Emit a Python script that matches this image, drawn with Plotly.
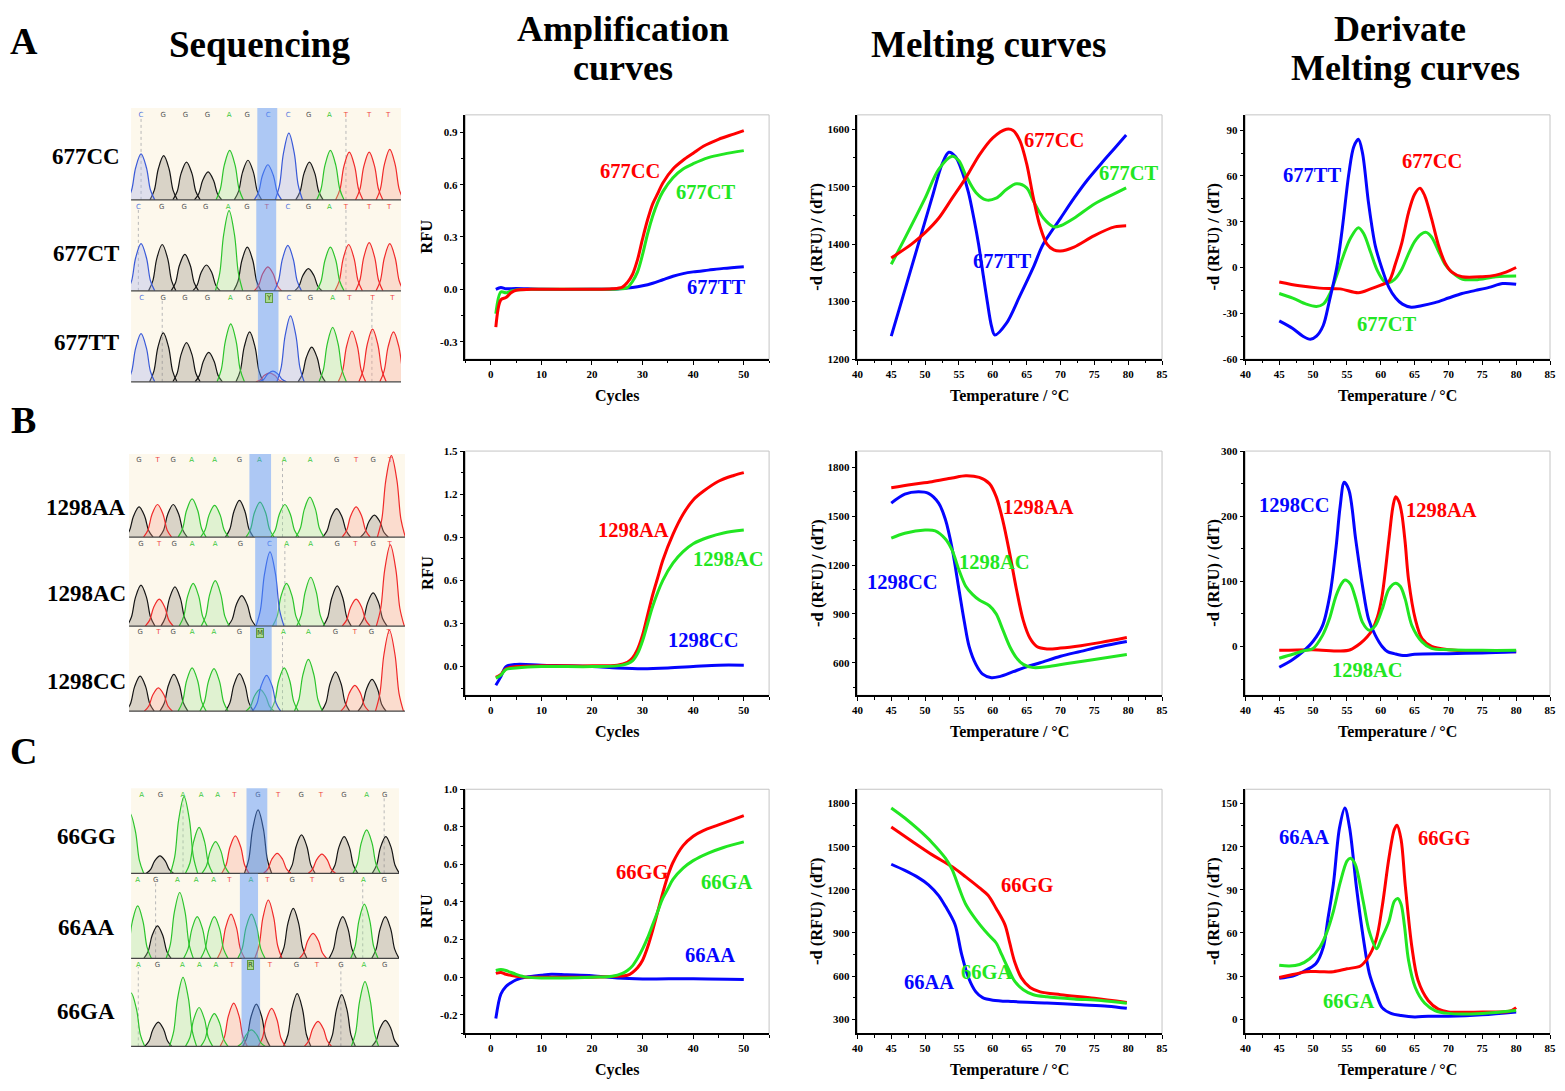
import plotly.graph_objects as go

W, H = 1565, 1091          # target picture
PAD = 8                    # default page margin around the plot div
FW, FH = W - 2 * PAD, H - 2 * PAD
SERIF = "Liberation Serif"
RED, GREEN, BLUE = "#ff0000", "#22e622", "#0505ff"

# ---------------- sequencing chromatograms: (base, position, height) ----------------
seq_677cc = [("C", 0.48, 0.51), ("G", 1.57, 0.49), ("G", 2.67, 0.42), ("G", 3.71, 0.31), ("A", 4.75, 0.55),
             ("G", 5.63, 0.44), ("C", 6.59, 0.39), ("C", 7.6, 0.74), ("G", 8.59, 0.42), ("A", 9.6, 0.55),
             ("T", 10.51, 0.53), ("T", 11.47, 0.53), ("T", 12.46, 0.56)]
seq_677ct = [("C", 0.48, 0.53), ("G", 1.5, 0.52), ("G", 2.59, 0.41), ("G", 3.63, 0.29), ("A", 4.72, 0.9),
             ("G", 5.6, 0.49), ("T", 6.59, 0.27), ("C", 7.55, 0.51), ("G", 8.54, 0.25), ("A", 9.6, 0.49),
             ("T", 10.48, 0.52), ("T", 11.47, 0.54), ("T", 12.46, 0.53)]
seq_677tt = [("C", 0.48, 0.54), ("G", 1.55, 0.55), ("G", 2.67, 0.44), ("G", 3.74, 0.33), ("A", 4.8, 0.65),
             ("G", 5.71, 0.56), ("T", 6.67, 0.1), ("C", 6.83, 0.12), ("C", 7.68, 0.74), ("G", 8.7, 0.39),
             ("A", 9.71, 0.61), ("T", 10.64, 0.57), ("T", 11.63, 0.59), ("T", 12.64, 0.56)]
seq_1298aa = [("G", 0.47, 0.37), ("T", 1.34, 0.40), ("G", 2.08, 0.40), ("A", 2.97, 0.47), ("A", 4.03, 0.39),
              ("G", 5.2, 0.45), ("A", 6.17, 0.43), ("A", 7.34, 0.40), ("A", 8.52, 0.49), ("G", 9.78, 0.35),
              ("T", 10.7, 0.37), ("G", 11.56, 0.27), ("T", 12.36, 1.0)]
seq_1298ac = [("G", 0.56, 0.47), ("T", 1.42, 0.31), ("G", 2.16, 0.45), ("A", 3.02, 0.49), ("A", 4.06, 0.52),
              ("G", 5.31, 0.35), ("C", 6.64, 0.85), ("A", 7.42, 0.49), ("A", 8.56, 0.56), ("G", 9.81, 0.46),
              ("T", 10.7, 0.31), ("G", 11.5, 0.38), ("T", 12.31, 0.93)]
seq_1298cc = [("G", 0.52, 0.42), ("T", 1.38, 0.28), ("G", 2.11, 0.44), ("A", 2.97, 0.52), ("A", 4.0, 0.51),
              ("G", 5.2, 0.45), ("A", 6.17, 0.26), ("C", 6.48, 0.43), ("A", 7.31, 0.52), ("A", 8.45, 0.62),
              ("G", 9.73, 0.47), ("T", 10.64, 0.31), ("G", 11.45, 0.38), ("T", 12.27, 0.97)]
seq_66gg = [("A", -0.05, 0.72), ("G", 1.4, 0.21), ("A", 2.57, 0.92), ("A", 3.3, 0.55), ("A", 4.1, 0.38),
            ("T", 5.06, 0.45), ("G", 6.16, 0.76), ("T", 7.09, 0.24), ("G", 8.27, 0.46), ("T", 9.26, 0.23),
            ("G", 10.34, 0.44), ("A", 11.43, 0.52), ("G", 12.36, 0.44)]
seq_66aa = [("A", 0.32, 0.63), ("G", 1.28, 0.39), ("A", 2.36, 0.79), ("A", 3.21, 0.5), ("A", 4.04, 0.5),
            ("T", 4.85, 0.53), ("A", 5.84, 0.53), ("T", 6.66, 0.70), ("G", 7.87, 0.60), ("T", 8.83, 0.30),
            ("G", 10.27, 0.50), ("A", 11.32, 0.65), ("G", 12.34, 0.50)]
seq_66ga = [("A", 0.0, 0.62), ("G", 1.32, 0.28), ("A", 2.52, 0.8), ("A", 3.3, 0.45), ("A", 4.04, 0.38),
            ("T", 4.98, 0.5), ("A", 5.84, 0.19), ("G", 6.08, 0.49), ("T", 6.82, 0.44), ("G", 8.06, 0.61),
            ("T", 9.07, 0.29), ("G", 10.22, 0.6), ("A", 11.35, 0.75), ("G", 12.34, 0.3)]

# base calls shown above each trace and where they sit
calls_677cc, calls_677ct, calls_677tt = "CGGGAGCCGATTT", "CGGGAGTCGATTT", "CGGGAGYCGATTT"
callx_677cc = [0.48, 1.55, 2.62, 3.68, 4.72, 5.6, 6.6, 7.57, 8.56, 9.55, 10.35, 11.47, 12.38]
callx_677ct = [0.35, 1.47, 2.56, 3.6, 4.67, 5.58, 6.54, 7.55, 8.54, 9.55, 10.35, 11.47, 12.43]
callx_677tt = [0.51, 1.55, 2.59, 3.68, 4.78, 5.66, 6.62, 7.6, 8.64, 9.71, 10.51, 11.63, 12.59]
calls_1298aa, calls_1298ac, calls_1298cc = "GTGAAGAAAGTGT", "GTGAAGCAAGTGT", "GTGAAGMAAGTGT"
callx_1298aa = [0.47, 1.34, 2.08, 2.95, 4.03, 5.2, 6.14, 7.31, 8.53, 9.78, 10.7, 11.5, 12.3]
callx_1298ac = [0.56, 1.42, 2.13, 2.97, 4.06, 5.25, 6.61, 7.42, 8.56, 9.81, 10.67, 11.5, 12.28]
callx_1298cc = [0.52, 1.38, 2.08, 2.97, 4.0, 5.2, 6.17, 7.27, 8.45, 9.73, 10.64, 11.42, 12.23]
calls_66gg, calls_66aa, calls_66ga = "AGAAATGTGTGAG", "AGAAATATGTGAG", "AGAAATRTGTGAG"
callx_66gg = [0.51, 1.43, 2.52, 3.4, 4.2, 5.01, 6.16, 7.13, 8.26, 9.21, 10.33, 11.43, 12.31]
callx_66aa = [0.32, 1.2, 2.25, 3.16, 4.01, 4.77, 5.81, 6.61, 7.82, 8.78, 10.22, 11.27, 12.28]
callx_66ga = [0.35, 1.28, 2.49, 3.32, 4.12, 4.89, 5.81, 6.73, 8.03, 9.02, 10.19, 11.3, 12.31]

# highlighted SNP column and dashed guide lines per trace
snp_677 = [(6.08, 7.04), (6.03, 6.99), (6.11, 7.1)]
snp_1298 = [(5.67, 6.69), (5.94, 6.97), (5.7, 6.72)]
snp_66 = [(5.6, 6.61), (5.28, 6.16), (5.36, 6.26)]
guides_677 = [[0.48, 10.35], [0.35, 10.35], [1.5, 11.6]]
guides_1298 = [[7.23], [7.34], [7.23]]
guides_66 = [[2.52, 12.28], [1.19, 11.24], [0.35, 10.18]]

# ---------------- amplification curves ----------------
amp_677cc_cyc = [1, 2, 3, 4, 5, 8, 15, 20, 24, 26, 27, 28, 29, 30, 31, 32, 33, 34, 36, 38, 40, 42, 45, 48, 50]
amp_677cc_rfu = [-0.217, -0.06, -0.047, -0.02, -0.005, 0, 0, 0, 0.003, 0.013, 0.04, 0.085, 0.17, 0.29, 0.4,
                 0.49, 0.55, 0.61, 0.69, 0.74, 0.78, 0.82, 0.86, 0.89, 0.91]
amp_677ct_cyc = [1, 2, 3, 4, 5, 8, 15, 20, 25, 27, 28, 29, 30, 31, 32, 33, 34, 36, 38, 40, 43, 46, 50]
amp_677ct_rfu = [-0.14, -0.015, -0.02, -0.01, -0.004, 0, 0, 0, 0.002, 0.01, 0.045, 0.1, 0.2, 0.32, 0.42,
                 0.5, 0.56, 0.64, 0.69, 0.72, 0.755, 0.775, 0.795]
amp_677tt_cyc = [1, 2, 3, 5, 10, 20, 25, 28, 30, 32, 34, 36, 38, 40, 43, 46, 50]
amp_677tt_rfu = [0.0, 0.01, 0.003, 0.005, 0.0, 0.0, 0.002, 0.01, 0.02, 0.035, 0.055, 0.075, 0.09, 0.1,
                 0.11, 0.12, 0.13]
amp_1298aa_cyc = [1, 2, 3, 5, 10, 20, 25, 27, 28, 29, 30, 31, 32, 33, 34, 36, 38, 40, 42, 45, 48, 50]
amp_1298aa_rfu = [-0.075, -0.055, -0.015, 0.0, 0.005, 0.005, 0.01, 0.03, 0.06, 0.12, 0.22, 0.36, 0.5, 0.62,
                  0.74, 0.92, 1.06, 1.16, 1.22, 1.29, 1.33, 1.35]
amp_1298ac_cyc = [1, 2, 3, 5, 10, 20, 26, 28, 29, 30, 31, 32, 34, 36, 38, 40, 43, 46, 50]
amp_1298ac_rfu = [-0.08, -0.06, -0.02, -0.01, 0, 0, 0.01, 0.04, 0.09, 0.18, 0.3, 0.42, 0.6, 0.72, 0.8,
                  0.855, 0.9, 0.93, 0.95]
amp_1298cc_cyc = [1, 2, 3, 5, 10, 20, 25, 30, 35, 40, 45, 50]
amp_1298cc_rfu = [-0.13, -0.07, 0.0, 0.015, 0.01, 0.0, -0.01, -0.015, -0.01, 0.0, 0.01, 0.01]
amp_66gg_cyc = [1, 2, 3, 5, 7, 10, 20, 25, 27, 28, 29, 30, 31, 32, 33, 34, 35, 36, 38, 40, 42, 45, 48, 50]
amp_66gg_rfu = [0.02, 0.025, 0.015, 0.005, 0, 0, 0, 0.005, 0.01, 0.025, 0.05, 0.09, 0.16, 0.25, 0.35, 0.45,
                0.54, 0.61, 0.7, 0.75, 0.78, 0.81, 0.84, 0.86]
amp_66ga_cyc = [1, 2, 3, 5, 7, 10, 20, 24, 26, 27, 28, 29, 30, 31, 32, 33, 34, 35, 36, 38, 40, 43, 46, 50]
amp_66ga_rfu = [0.035, 0.04, 0.035, 0.015, 0, -0.005, 0, 0.005, 0.02, 0.035, 0.06, 0.1, 0.15, 0.21, 0.28,
                0.35, 0.42, 0.47, 0.52, 0.58, 0.62, 0.66, 0.69, 0.72]
amp_66aa_cyc = [1, 2, 3, 4, 5, 7, 10, 12, 15, 20, 25, 30, 40, 50]
amp_66aa_rfu = [-0.22, -0.09, -0.05, -0.03, -0.015, 0.0, 0.01, 0.015, 0.012, 0.008, -0.005, -0.01, -0.008,
                -0.012]

# ---------------- melting curves ----------------
mt_677cc_t = [45, 48, 50, 52, 54, 56, 58, 60, 62, 63, 64, 65, 66, 67, 68, 69, 70, 72, 75, 78, 79.7]
mt_677cc_v = [1376, 1400, 1420, 1445, 1480, 1515, 1555, 1585, 1600, 1598, 1580, 1540, 1480, 1430, 1400,
              1390, 1388, 1395, 1415, 1430, 1432]
mt_677ct_t = [45, 47, 50, 52, 54, 55, 56, 57.5, 59, 60.5, 62, 63.5, 65, 66, 67.5, 69, 70, 72, 75, 78, 79.7]
mt_677ct_v = [1365, 1410, 1480, 1530, 1553, 1545, 1520, 1490, 1477, 1480, 1495, 1505, 1498, 1475, 1445,
              1430, 1432, 1445, 1470, 1488, 1498]
mt_677tt_t = [45, 47, 49, 51, 52.5, 53.5, 54.5, 55.5, 56.4, 57.2, 57.9, 58.6, 59.2, 59.8, 60.3, 62, 64, 66,
              67.4, 70, 72, 74, 76, 78, 79.7]
mt_677tt_v = [1240, 1320, 1400, 1480, 1539, 1560, 1552, 1525, 1490, 1445, 1400, 1345, 1299, 1258, 1242,
              1262, 1310, 1360, 1399, 1445, 1480, 1512, 1540, 1567, 1590]
mt_1298aa_t = [45, 48, 51, 54, 56, 58, 59.5, 60.5, 61.5, 62.5, 63.5, 64.5, 65.5, 66.5, 68, 70, 73, 76, 79.8]
mt_1298aa_v = [1675, 1695, 1712, 1735, 1748, 1738, 1700, 1620, 1470, 1270, 1050, 860, 750, 700, 685, 690,
               705, 725, 755]
mt_1298ac_t = [45, 47, 50, 51.5, 53, 54, 55, 56, 57, 58, 59.5, 60.5, 61.5, 62.5, 63.5, 64.5, 66, 68, 71, 75,
               79.8]
mt_1298ac_v = [1365, 1395, 1415, 1410, 1360, 1290, 1170, 1070, 1020, 985, 950, 900, 800, 700, 630, 590, 570,
               575, 595, 620, 650]
mt_1298cc_t = [45, 47, 49, 50.5, 52, 53, 54, 55, 55.8, 56.5, 57.5, 58.5, 59.8, 61, 63, 65, 67, 70, 73, 76,
               79.8]
mt_1298cc_v = [1580, 1635, 1650, 1640, 1580, 1480, 1300, 1050, 850, 700, 590, 530, 508, 515, 545, 575, 600,
               640, 670, 700, 730]
mt_66gg_t = [45, 48, 51, 54, 56, 58, 59.3, 60.5, 61.8, 62.5, 63.2, 64.2, 65.5, 67, 70, 75, 79.8]
mt_66gg_v = [1637, 1540, 1445, 1360, 1290, 1215, 1162, 1070, 956, 830, 703, 589, 520, 490, 470, 445, 415]
mt_66ga_t = [45, 47, 49, 51, 53, 54, 55, 56, 57.4, 59.3, 60.5, 61.3, 62.3, 63.2, 64.5, 66, 68, 72, 76, 79.8]
mt_66ga_v = [1770, 1700, 1620, 1530, 1420, 1340, 1215, 1100, 1000, 890, 830, 750, 650, 566, 505, 470, 455,
             440, 430, 410]
mt_66aa_t = [45, 47, 49, 50.5, 52, 53, 54.4, 55.4, 56.4, 57.5, 58.5, 60, 63, 68, 73, 77, 79.8]
mt_66aa_v = [1378, 1335, 1285, 1235, 1160, 1085, 960, 750, 590, 490, 450, 432, 422, 412, 400, 390, 375]

# ---------------- derivative melting curves ----------------
dm_677tt_t = [45, 47, 48.5, 49.6, 50.5, 51.5, 52.4, 53.5, 54.3, 55.3, 56, 56.7, 57.3, 58.2, 59.2, 60.2, 61.2,
              62.2, 63.2, 64.5, 66, 68, 70, 72, 74, 76, 78, 80]
dm_677tt_v = [-35, -40, -45, -47, -45, -38, -22, 0, 25, 62, 79, 84, 75, 42, 14, -1, -13, -20, -24, -26, -25,
              -23, -20, -17, -15, -13, -10.5, -11]
dm_677cc_t = [45, 48, 51, 54, 56.7, 58.5, 60, 61.2, 62.2, 63.1, 64.1, 65, 65.8, 66.5, 67.5, 68.5, 69.5, 70.5,
              72, 75, 77, 78.5, 80]
dm_677cc_v = [-9.5, -12, -13.5, -14, -16.5, -14, -11.5, -9, 3, 16, 36, 48, 52, 47, 32, 15, 3, -3, -6, -6, -5,
              -3, 0]
dm_677ct_t = [45, 47, 49, 50.5, 51.5, 52.5, 53.5, 54.5, 55.5, 56.7, 57.5, 58.5, 59.5, 60.5, 61.2, 62, 63, 64,
              65, 66, 66.7, 67.5, 68.5, 69.5, 70.5, 72, 74, 77, 80]
dm_677ct_v = [-17, -20, -24, -25.5, -24, -17, -5, 8, 19, 26, 22, 10, -2, -9, -10, -8, -2, 8, 17, 22, 23, 20,
              11, 2, -3, -7.5, -8, -6, -5.5]
dm_1298cc_t = [45, 47, 48.5, 50, 51.4, 52.5, 53.4, 54, 54.6, 55.3, 56.3, 57.3, 58.2, 59.2, 60.2, 61, 62, 63.5,
               65, 70, 75, 80]
dm_1298cc_v = [-32, -20, -8, 8, 32, 80, 153, 215, 252, 240, 164, 93, 42, 17, 0, -8, -11, -14, -12, -11, -10,
               -8]
dm_1298aa_t = [45, 50, 54, 55.5, 57, 58, 58.7, 59.5, 60.2, 61.2, 61.8, 62.2, 62.7, 63.1, 63.6, 64.1, 65.1,
               66.1, 67.5, 70, 75, 80]
dm_1298aa_v = [-6, -5, -7, -5, 5, 15, 25, 45, 78, 164, 215, 230, 222, 204, 160, 103, 42, 12, 0, -5, -7, -8]
dm_1298ac_t = [45, 47, 48.5, 50, 51.4, 52.4, 53.4, 54.3, 54.7, 55.5, 56.3, 57.3, 58.3, 59.2, 60.2, 61.2, 62.2,
               62.9, 63.6, 64.6, 66.1, 67.5, 70, 75, 80]
dm_1298ac_v = [-18, -12, -7, -3, 17, 42, 78, 98, 102, 96, 73, 37, 25, 32, 57, 88, 97, 92, 73, 32, 7, -3, -5,
               -6, -6]
dm_66aa_t = [45, 47, 48.5, 50.4, 51.5, 52.2, 53, 53.9, 54.7, 55.4, 56.4, 57.4, 58.3, 59.3, 60.2, 61.5, 63, 65,
             67, 70, 75, 80]
dm_66aa_v = [28.5, 30, 33, 38.5, 50, 70, 94, 133, 147, 133, 92, 57, 32, 18, 8, 4, 2.5, 1.5, 2, 2, 3, 5]
dm_66gg_t = [45, 47, 49, 51, 53, 55, 57, 58, 59.3, 60.2, 61.2, 62, 62.4, 63, 63.6, 64.6, 65.5, 67, 68.5, 70,
             75, 79, 80]
dm_66gg_v = [29, 31, 33, 33, 33, 35, 37, 42, 55, 78, 112, 132, 135, 125, 94, 50, 27, 13, 7, 5, 5, 5.5, 8]
dm_66ga_t = [45, 46.5, 48, 49.5, 51, 52, 53, 54, 55, 55.5, 56.2, 57.4, 58.3, 59.4, 60, 61.2, 62, 62.5, 63,
             63.5, 64.1, 65.1, 66.5, 68, 70, 75, 80]
dm_66ga_v = [37.5, 37, 38, 42, 50, 60, 75, 95, 110, 112, 108, 82, 61, 49, 55, 68, 82, 84, 80, 65, 41, 22, 11,
             6, 4, 4, 6]

# ---------------- axis ticks ----------------
amp_xticks = [0, 10, 20, 30, 40, 50]
temp_xticks = [40, 45, 50, 55, 60, 65, 70, 75, 80, 85]
amp_a_yticks = [-0.3, 0.0, 0.3, 0.6, 0.9]
amp_b_yticks = [0.0, 0.3, 0.6, 0.9, 1.2, 1.5]
amp_c_yticks = [-0.2, 0.0, 0.2, 0.4, 0.6, 0.8, 1.0]
mt_a_yticks = [1200, 1300, 1400, 1500, 1600]
mt_b_yticks = [600, 900, 1200, 1500, 1800]
mt_c_yticks = [300, 600, 900, 1200, 1500, 1800]
dm_a_yticks = [-60, -30, 0, 30, 60, 90]
dm_b_yticks = [0, 100, 200, 300]
dm_c_yticks = [0, 30, 60, 90, 120, 150]

LINE = {"A": "#2cc42c", "C": "#3a5ad8", "G": "#151515", "T": "#f02a2a"}
FILL = {"A": "rgba(160,228,145,0.30)", "C": "rgba(170,180,235,0.36)",
        "G": "rgba(125,115,105,0.28)", "T": "rgba(250,155,135,0.30)"}
CALL = {"A": "#3cc83c", "C": "#5577dd", "G": "#555555", "T": "#ee4444"}
# peak glyph used to draw every base peak
PEAK_DX = [-0.66, -0.45, -0.26, 0, 0.26, 0.45, 0.66]
PEAK_FY = [0, 0.22, 0.7, 1, 0.7, 0.22, 0]

fig = go.Figure()
layout = {}
annotations = []
shapes = []
counter = [0]


def fx(p):
    return min(max((p - PAD) / FW, 0), 1)


def fy(p):
    return min(max(1 - (p - PAD) / FH, 0), 1)


def new_axes(x0, x1, y0, y1):
    counter[0] += 1
    k = "" if counter[0] == 1 else str(counter[0])
    layout[f"xaxis{k}"] = dict(domain=[fx(x0), fx(x1)], anchor=f"y{k}")
    layout[f"yaxis{k}"] = dict(domain=[fy(y1), fy(y0)], anchor=f"x{k}")
    return f"x{k}", f"y{k}", k


def text(x, y, s, size, color="black", angle=0, xref="paper", yref="paper"):
    if xref == "paper":
        x, y = fx(x), fy(y)
    annotations.append(dict(x=x, y=y, xref=xref, yref=yref, text=s, showarrow=False, textangle=angle,
                            font=dict(family=SERIF, size=size, color=color, weight="bold"),
                            xanchor="center", yanchor="middle"))


def draw_strip(box, peaks, calls, callx, snp, guides):
    xa, ya, k = new_axes(*box)
    for ax in (layout[f"xaxis{k}"], layout[f"yaxis{k}"]):
        ax.update(showline=False, showticklabels=False, ticks="", showgrid=False, zeroline=False,
                  fixedrange=True)
    layout[f"xaxis{k}"]["range"] = [0, 13]
    layout[f"yaxis{k}"]["range"] = [0, 1.02]
    shapes.append(dict(type="rect", xref=f"{xa} domain", yref=f"{ya} domain", x0=0, x1=1, y0=0, y1=1,
                       fillcolor="#fdf8ec", line=dict(width=0), layer="below"))
    for g in guides:
        shapes.append(dict(type="line", xref=xa, yref=f"{ya} domain", x0=g, x1=g, y0=0, y1=0.9,
                           line=dict(color="#b8b8b8", width=1, dash="dot"), layer="below"))
    for base in "GTAC":
        xs, ys = [], []
        for b, pos, h in peaks:
            if b != base:
                continue
            xs += [pos + d for d in PEAK_DX] + [None]
            ys += [h * f for f in PEAK_FY] + [None]
        if xs:
            fig.add_trace(go.Scatter(x=xs, y=ys, xaxis=xa, yaxis=ya, mode="lines", fill="toself",
                                     fillcolor=FILL[base], line=dict(color=LINE[base], width=1.2,
                                                                     shape="spline", smoothing=1.0),
                                     hoverinfo="skip"))
    plain = [(c, x) for c, x in zip(calls, callx) if c in "ACGT"]
    fig.add_trace(go.Scatter(x=[x for _, x in plain], y=[0.94] * len(plain), xaxis=xa, yaxis=ya,
                             mode="text", text=[c for c, _ in plain],
                             textfont=dict(size=7, color=[CALL[c] for c, _ in plain], family="DejaVu Sans"),
                             hoverinfo="skip"))
    for c, x in zip(calls, callx):
        if c not in "ACGT":
            annotations.append(dict(x=x, y=0.94, xref=xa, yref=ya, text=c, showarrow=False,
                                    font=dict(size=7, color="#335522", family="DejaVu Sans"),
                                    bgcolor="#a9d98e", bordercolor="#5f9a45", borderwidth=1, borderpad=0))
    shapes.append(dict(type="rect", xref=xa, yref=f"{ya} domain", x0=snp[0], x1=snp[1], y0=0, y1=1,
                       fillcolor="#4b8fff", opacity=0.45, line=dict(width=0), layer="above"))
    shapes.append(dict(type="line", xref=f"{xa} domain", yref=f"{ya} domain", x0=0, x1=1, y0=0, y1=0,
                       line=dict(color="#444444", width=1.2)))


def tick_text(vals, fmt):
    return [fmt.format(v) for v in vals]


def draw_chart(box, xr, xticks, xminor, yr, yticks, yminor, yfmt, curves, labels, xtitle, ytitle, ytitle_dx):
    xa, ya, k = new_axes(*box)
    common = dict(showline=True, linecolor="black", linewidth=1.5, ticks="outside", ticklen=4, tickwidth=1.2,
                  tickcolor="black", showgrid=False, zeroline=False, fixedrange=True,
                  tickfont=dict(family=SERIF, size=11, color="black", weight="bold"))
    layout[f"xaxis{k}"].update(common, range=xr, tickmode="array", tickvals=xticks,
                               ticktext=tick_text(xticks, "{:g}"),
                               minor=dict(ticks="outside", ticklen=2.5, tickmode="linear", tick0=xticks[0],
                                          dtick=xminor, tickcolor="black", tickwidth=1))
    layout[f"yaxis{k}"].update(common, range=yr, tickmode="array", tickvals=yticks,
                               ticktext=tick_text(yticks, yfmt),
                               minor=dict(ticks="outside", ticklen=2.5, tickmode="linear", tick0=yticks[0],
                                          dtick=yminor, tickcolor="black", tickwidth=1))
    shapes.append(dict(type="rect", xref=f"{xa} domain", yref=f"{ya} domain", x0=0, x1=1, y0=0, y1=1,
                       line=dict(color="#c4c4c4", width=1), layer="below"))
    for xs, ys, color in curves:
        fig.add_trace(go.Scatter(x=xs, y=ys, xaxis=xa, yaxis=ya, mode="lines",
                                 line=dict(color=color, width=3, shape="spline", smoothing=0.9)))
    for lx, ly, s, color in labels:
        text(lx, ly, s, 20.5, color, xref=xa, yref=ya)
    x0, x1, y0, y1 = box
    text((x0 + x1) / 2, y1 + 37, xtitle, 16)
    text(x0 + ytitle_dx, (y0 + y1) / 2, ytitle, 16.5, angle=-90)


# ---------------- headers ----------------
text(255, 39, "Sequencing", 37)
text(622, 23, "Amplification", 36)
text(622, 63, "curves", 36)
text(990, 39, "Melting curves", 37)
text(1405, 23, "Derivate", 36)
text(1410, 63, "Melting curves", 36)
for letter, y in (("A", 35), ("B", 419), ("C", 753)):
    text(18, y, letter, 38)

# ---------------- sequencing panels ----------------
seq_rows = [
    ((126, 398), [(103, 196), (196, 288), (288, 380)], [seq_677cc, seq_677ct, seq_677tt],
     [calls_677cc, calls_677ct, calls_677tt], [callx_677cc, callx_677ct, callx_677tt], snp_677, guides_677,
     ["677CC", "677CT", "677TT"], [152, 250, 340]),
    ((124, 402), [(453, 537), (537, 627), (627, 713)], [seq_1298aa, seq_1298ac, seq_1298cc],
     [calls_1298aa, calls_1298ac, calls_1298cc], [callx_1298aa, callx_1298ac, callx_1298cc], snp_1298,
     guides_1298, ["1298AA", "1298AC", "1298CC"], [507, 594, 683]),
    ((126, 396), [(791, 877), (877, 963), (963, 1052)], [seq_66gg, seq_66aa, seq_66ga],
     [calls_66gg, calls_66aa, calls_66ga], [callx_66gg, callx_66aa, callx_66ga], snp_66, guides_66,
     ["66GG", "66AA", "66GA"], [840, 932, 1017]),
]
for (sx0, sx1), ys, peaks, calls, callx, snps, guides, names, name_y in seq_rows:
    for i in range(3):
        draw_strip((sx0, sx1, ys[i][0], ys[i][1]), peaks[i], calls[i], callx[i], snps[i], guides[i])
        text(81, name_y[i], names[i], 23)

# ---------------- curve panels ----------------
AMP_X, MT_X, DM_X = (463, 769), (858, 1165), (1249, 1556)
ROW_Y = [(110, 357), (450, 697), (792, 1039)]
RFU = "RFU"
DRV = "-d (RFU) / (dT)"
TEMP = "Temperature / °C"

draw_chart((*AMP_X, *ROW_Y[0]), [-5, 55], amp_xticks, 5, [-0.4, 1.0], amp_a_yticks, 0.15, "{:.1f}",
           [(amp_677tt_cyc, amp_677tt_rfu, BLUE), (amp_677ct_cyc, amp_677ct_rfu, GREEN),
            (amp_677cc_cyc, amp_677cc_rfu, RED)],
           [(27.5, 0.68, "677CC", RED), (42.6, 0.56, "677CT", GREEN), (44.5, 0.015, "677TT", BLUE)],
           "Cycles", RFU, -39)
draw_chart((*MT_X, *ROW_Y[0]), [40, 85], temp_xticks, 2.5, [1200, 1625], mt_a_yticks, 50, "{:d}",
           [(mt_677tt_t, mt_677tt_v, BLUE), (mt_677ct_t, mt_677ct_v, GREEN), (mt_677cc_t, mt_677cc_v, RED)],
           [(69.1, 1582, "677CC", RED), (80.1, 1523, "677CT", GREEN), (61.3, 1370, "677TT", BLUE)],
           TEMP, DRV, -41)
draw_chart((*DM_X, *ROW_Y[0]), [40, 85], temp_xticks, 2.5, [-60, 100], dm_a_yticks, 15, "{:d}",
           [(dm_677ct_t, dm_677ct_v, GREEN), (dm_677cc_t, dm_677cc_v, RED), (dm_677tt_t, dm_677tt_v, BLUE)],
           [(49.9, 60.5, "677TT", BLUE), (67.5, 70, "677CC", RED), (60.9, -37, "677CT", GREEN)],
           TEMP, DRV, -32)

draw_chart((*AMP_X, *ROW_Y[1]), [-5, 55], amp_xticks, 5, [-0.2, 1.5], amp_b_yticks, 0.15, "{:.1f}",
           [(amp_1298cc_cyc, amp_1298cc_rfu, BLUE), (amp_1298aa_cyc, amp_1298aa_rfu, RED),
            (amp_1298ac_cyc, amp_1298ac_rfu, GREEN)],
           [(28.3, 0.95, "1298AA", RED), (46.9, 0.75, "1298AC", GREEN), (42, 0.185, "1298CC", BLUE)],
           "Cycles", RFU, -39)
draw_chart((*MT_X, *ROW_Y[1]), [40, 85], temp_xticks, 2.5, [400, 1900], mt_b_yticks, 150, "{:d}",
           [(mt_1298aa_t, mt_1298aa_v, RED), (mt_1298cc_t, mt_1298cc_v, BLUE),
            (mt_1298ac_t, mt_1298ac_v, GREEN)],
           [(66.7, 1554, "1298AA", RED), (60.3, 1220, "1298AC", GREEN), (46.6, 1093, "1298CC", BLUE)],
           TEMP, DRV, -41)
draw_chart((*DM_X, *ROW_Y[1]), [40, 85], temp_xticks, 2.5, [-75, 300], dm_b_yticks, 50, "{:d}",
           [(dm_1298aa_t, dm_1298aa_v, RED), (dm_1298cc_t, dm_1298cc_v, BLUE),
            (dm_1298ac_t, dm_1298ac_v, GREEN)],
           [(47.2, 217, "1298CC", BLUE), (69.0, 209, "1298AA", RED), (58.1, -36, "1298AC", GREEN)],
           TEMP, DRV, -32)

draw_chart((*AMP_X, *ROW_Y[2]), [-5, 55], amp_xticks, 5, [-0.3, 1.0], amp_c_yticks, 0.1, "{:.1f}",
           [(amp_66aa_cyc, amp_66aa_rfu, BLUE), (amp_66gg_cyc, amp_66gg_rfu, RED),
            (amp_66ga_cyc, amp_66ga_rfu, GREEN)],
           [(29.8, 0.56, "66GG", RED), (46.5, 0.505, "66GA", GREEN), (43.3, 0.12, "66AA", BLUE)],
           "Cycles", RFU, -39)
draw_chart((*MT_X, *ROW_Y[2]), [40, 85], temp_xticks, 2.5, [200, 1900], mt_c_yticks, 150, "{:d}",
           [(mt_66gg_t, mt_66gg_v, RED), (mt_66aa_t, mt_66aa_v, BLUE), (mt_66ga_t, mt_66ga_v, GREEN)],
           [(65.1, 1231, "66GG", RED), (59.1, 628, "66GA", GREEN), (50.6, 561, "66AA", BLUE)],
           TEMP, DRV, -41)
draw_chart((*DM_X, *ROW_Y[2]), [40, 85], temp_xticks, 2.5, [-10, 160], dm_c_yticks, 15, "{:d}",
           [(dm_66aa_t, dm_66aa_v, BLUE), (dm_66gg_t, dm_66gg_v, RED), (dm_66ga_t, dm_66ga_v, GREEN)],
           [(48.6, 127, "66AA", BLUE), (69.3, 126, "66GG", RED), (55.3, 12.6, "66GA", GREEN)],
           TEMP, DRV, -32)

fig.update_layout(width=FW, height=FH, margin=dict(l=0, r=0, t=0, b=0), paper_bgcolor="white",
                  plot_bgcolor="white", showlegend=False, font=dict(family=SERIF, color="black"),
                  annotations=annotations, shapes=shapes, **layout)
fig.write_html("out.html")
